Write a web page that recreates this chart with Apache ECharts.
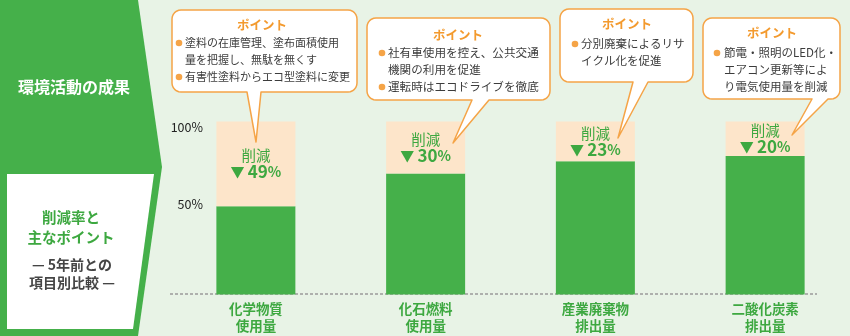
<!DOCTYPE html>
<html>
<head>
<meta charset="utf-8">
<script src="https://cdn.jsdelivr.net/npm/echarts@6/dist/echarts.min.js"></script>
<style>html,body{margin:0;padding:0;background:#E8F3E6;}#c{width:850px;height:336px;}</style>
</head>
<body>
<div id="c"></div>
<script>
// ---- data ----
const categories = ['化学物質\n使用量', '化石燃料\n使用量', '産業廃棄物\n排出量', '二酸化炭素\n排出量'];
const remaining = [51, 70, 77, 80];
const reduction = [49, 30, 23, 20];
const yTickLabels = { 50: '50%', 100: '100%' };
const reductionWord = '削減';
const panelTitle = '環境活動の成果';
const panelSub1 = ['削減率と', '主なポイント'];
const panelSub2 = ['— 5年前との', '項目別比較 —'];
const pointTitle = 'ポイント';
const points1 = [['塗料の在庫管理、塗布面積使用', '量を把握し、無駄を無くす'], ['有害性塗料からエコ型塗料に変更']];
const points2 = [['社有車使用を控え、公共交通', '機関の利用を促進'], ['運転時はエコドライブを徹底']];
const points3 = [['分別廃棄によるリサ', 'イクル化を促進']];
const points4 = [['節電・照明のLED化・', 'エアコン更新等によ', 'り電気使用量を削減']];
const pointsAll = [points1, points2, points3, points4];

// ---- layout / style ----
const FONT = '"Noto Sans CJK JP", "Noto Sans", sans-serif';
const GREEN = '#45B04A';
const GREEN_TXT = '#3DA840';
const PEACH = '#FDE5CA';
const ORANGE = '#F5A447';
const boxes = [
  {x0:172,y0:10,x1:357,y1:92,b1:247,b2:261,tx:256,ty:142,titleX:262,titleY:25,bulletX:179,textX:185,lineY:43,fs:11},
  {x0:367,y0:18,x1:550,y1:100,b1:472,b2:489,tx:453,ty:143,titleX:458,titleY:35,bulletX:382,textX:388,lineY:53,fs:11.6},
  {x0:560,y0:9,x1:693,y1:82,b1:633,b2:648,tx:618,ty:138,titleX:627,titleY:24,bulletX:575,textX:581,lineY:44,fs:11.5},
  {x0:703,y0:18,x1:840,y1:99,b1:812,b2:828,tx:792,ty:135,titleX:772,titleY:33,bulletX:717,textX:724,lineY:53,fs:11.5}
];

function calloutPoints(c, r) {
  const pts = [];
  const arc = (cx, cy, a0, a1) => { for (let i = 0; i <= 6; i++) { const a = a0 + (a1 - a0) * i / 6; pts.push([cx + r * Math.cos(a), cy + r * Math.sin(a)]); } };
  arc(c.x0 + r, c.y0 + r, Math.PI, 1.5 * Math.PI);
  arc(c.x1 - r, c.y0 + r, 1.5 * Math.PI, 2 * Math.PI);
  arc(c.x1 - r, c.y1 - r, 0, 0.5 * Math.PI);
  pts.push([c.b2, c.y1], [c.tx, c.ty], [c.b1, c.y1]);
  arc(c.x0 + r, c.y1 - r, 0.5 * Math.PI, Math.PI);
  return pts;
}

const graphics = [];
// left panel
graphics.push({ type: 'polygon', z: 1, shape: { points: [[0,0],[138,0],[162,167],[138,336],[0,336]] }, style: { fill: GREEN } });
graphics.push({ type: 'polygon', z: 2, shape: { points: [[7,174],[154,174],[133,329],[7,329]] }, style: { fill: '#ffffff' } });
graphics.push({ type: 'text', z: 3, x: 74, y: 87, style: { text: panelTitle, font: 'bold 16px ' + FONT, fill: '#ffffff', align: 'center', verticalAlign: 'middle' } });
panelSub1.forEach((t, i) => graphics.push({ type: 'text', z: 3, x: 71, y: 217 + i * 20, style: { text: t, font: 'bold 14.5px ' + FONT, fill: GREEN_TXT, align: 'center', verticalAlign: 'middle' } }));
panelSub2.forEach((t, i) => graphics.push({ type: 'text', z: 3, x: 72, y: 265 + i * 18, style: { text: t, font: 'bold 14px ' + FONT, fill: '#454545', align: 'center', verticalAlign: 'middle' } }));
// baseline
graphics.push({ type: 'line', z: 1, shape: { x1: 170, y1: 294, x2: 817, y2: 294 }, style: { stroke: '#9a9a9a', lineWidth: 1.5, lineDash: [3, 2] } });
// callouts
boxes.forEach((c, k) => {
  graphics.push({ type: 'polygon', z: 10, shape: { points: calloutPoints(c, 9) }, style: { fill: '#ffffff', stroke: ORANGE, lineWidth: 1.5, lineJoin: 'round' } });
  graphics.push({ type: 'text', z: 11, x: c.titleX, y: c.titleY, style: { text: pointTitle, font: 'bold 12.5px ' + FONT, fill: '#F39A2E', align: 'center', verticalAlign: 'middle' } });
  let li = 0;
  pointsAll[k].forEach(bullet => {
    graphics.push({ type: 'circle', z: 11, shape: { cx: c.bulletX, cy: c.lineY + li * 17, r: 3.3 }, style: { fill: ORANGE } });
    bullet.forEach(line => {
      graphics.push({ type: 'text', z: 11, x: c.textX, y: c.lineY + li * 17, style: { text: line, font: c.fs + 'px ' + FONT, fill: '#3c3c3c', align: 'left', verticalAlign: 'middle' } });
      li++;
    });
  });
});

const chart = echarts.init(document.getElementById('c'));
chart.setOption({
  backgroundColor: '#E8F3E6',
  animation: false,
  grid: { left: 171, width: 681, top: 121.5, bottom: 41.5, containLabel: false },
  xAxis: {
    type: 'category', data: categories,
    axisLine: { show: false }, axisTick: { show: false },
    axisLabel: { color: GREEN_TXT, fontSize: 13.5, fontWeight: 'bold', lineHeight: 17, margin: 6, fontFamily: FONT, interval: 0 }
  },
  yAxis: {
    type: 'value', min: 0, max: 100, interval: 50,
    splitLine: { show: false }, axisLine: { show: false }, axisTick: { show: false },
    axisLabel: {
      inside: true, margin: 32, align: 'right', color: '#222', fontSize: 12.5, fontFamily: FONT,
      formatter: v => v === 100 ? '{t|' + yTickLabels[v] + '}' : (v === 50 ? '{f|' + yTickLabels[v] + '}' : ''),
      rich: { t: { fontSize: 12.5, fontFamily: FONT, color: '#222', padding: [12, 0, 0, 0] }, f: { fontSize: 12.5, fontFamily: FONT, color: '#222', padding: [0, 0, 7, 0] } }
    }
  },
  series: [
    { type: 'bar', stack: 'a', barWidth: 79, data: remaining, itemStyle: { color: GREEN }, z: 3 },
    {
      type: 'bar', stack: 'a', barWidth: 79, data: reduction, itemStyle: { color: PEACH }, z: 3,
      label: {
        show: true, position: 'inside',
        formatter: p => '{a|' + reductionWord + '}\n{t|▼} {n|' + p.value + '}{p|%}',
        rich: {
          a: { fontSize: 14.5, color: GREEN_TXT, fontFamily: FONT, lineHeight: 16, align: 'center' },
          t: { fontSize: 14, color: GREEN_TXT, fontFamily: FONT, lineHeight: 16 },
          n: { fontSize: 17, fontWeight: 'bold', color: GREEN_TXT, fontFamily: FONT, lineHeight: 16 },
          p: { fontSize: 14, fontWeight: 'bold', color: GREEN_TXT, fontFamily: FONT, lineHeight: 16 }
        }
      }
    }
  ],
  graphic: graphics
});
</script>
</body>
</html>
